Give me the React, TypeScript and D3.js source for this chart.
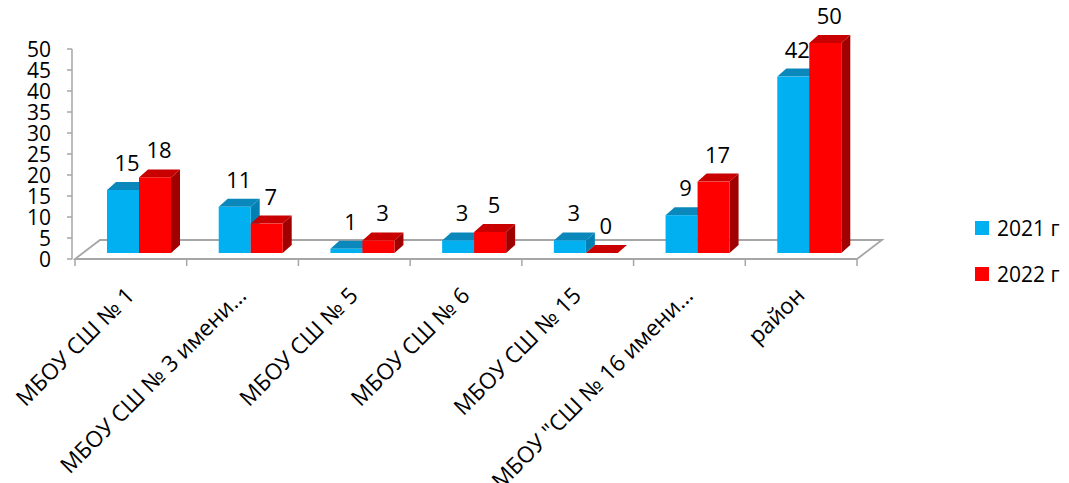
import React from "react";
import * as d3 from "d3";

const categories = [
  "МБОУ СШ № 1",
  "МБОУ СШ № 3 имени…",
  "МБОУ СШ № 5",
  "МБОУ СШ № 6",
  "МБОУ СШ № 15",
  "МБОУ \"СШ № 16 имени…",
  "район",
];
const values2021 = [15, 11, 1, 3, 3, 9, 42];
const values2022 = [18, 7, 3, 5, 0, 17, 50];
const seriesNames = ["2021 г", "2022 г"];
const yTicks = [0, 5, 10, 15, 20, 25, 30, 35, 40, 45, 50];

const FONT = "'Open Sans', 'Noto Sans', sans-serif";
const colors = [
  { front: "#00B0F0", top: "#0A88BC", side: "#0380B2" },
  { front: "#FF0000", top: "#C80000", side: "#A00000" },
];

export default function App() {
  const W = 1069, H = 483;
  const axisY = d3.scaleLinear().domain([0, 50]).range([259, 49]);
  const barY = d3.scaleLinear().domain([0, 50]).range([253, 43]);
  const xBand = d3.scaleBand<string>().domain(categories).range([75, 857]).padding(0);
  const bw = xBand.bandwidth();
  const barW = 32;
  const barOff = 32;
  const dx = 9, dy = -8;
  const floorDx = 25, floorDy = -19;
  const series = [values2021, values2022];

  const bars: JSX.Element[] = [];
  categories.forEach((c, i) => {
    series.forEach((vals, s) => {
      const v = vals[i];
      const x0 = (xBand(c) as number) + barOff + s * barW;
      const x1 = x0 + barW;
      const yb = barY(0);
      const yt = barY(v);
      const col = colors[s];
      bars.push(
        <g key={`b${i}-${s}`}>
          {v > 0 && (
            <polygon
              points={`${x1},${yb} ${x1 + dx},${yb + dy} ${x1 + dx},${yt + dy} ${x1},${yt}`}
              fill={col.side}
            />
          )}
          <polygon
            points={`${x0},${yt} ${x1},${yt} ${x1 + dx},${yt + dy} ${x0 + dx},${yt + dy}`}
            fill={col.top}
          />
          {v > 0 && <rect x={x0} y={yt} width={barW} height={yb - yt} fill={col.front} />}
        </g>
      );
    });
  });

  const labels: JSX.Element[] = [];
  categories.forEach((c, i) => {
    series.forEach((vals, s) => {
      const v = vals[i];
      const x0 = (xBand(c) as number) + barOff + s * barW;
      labels.push(
        <text
          key={`l${i}-${s}`}
          x={x0 + barW / 2 + 4}
          y={barY(v) - 19}
          textAnchor="middle"
          fontSize={22}
          fontFamily={FONT}
          fill="#000"
        >
          {v}
        </text>
      );
    });
  });

  const fx0 = 75, fx1 = 857, fy = 259;

  return (
    <svg width={W} height={H} style={{ position: "absolute", left: 0, top: 0, background: "#fff" }}>
      {/* floor */}
      <polygon
        points={`${fx0},${fy} ${fx1},${fy} ${fx1 + floorDx},${fy + floorDy} ${fx0 + floorDx},${fy + floorDy}`}
        fill="#fff"
        stroke="#A6A6A6"
        strokeWidth={1.8}
      />
      {/* category ticks */}
      {[...categories.map((c) => xBand(c) as number), fx1].map((x, i) => (
        <line key={`ct${i}`} x1={x} x2={x} y1={fy} y2={fy + 7} stroke="#A6A6A6" strokeWidth={1.5} />
      ))}
      {/* y axis */}
      <line x1={72} x2={72} y1={axisY(50)} y2={axisY(0)} stroke="#A6A6A6" strokeWidth={1.5} />
      {yTicks.map((t) => (
        <g key={`yt${t}`}>
          <line x1={67} x2={72} y1={axisY(t)} y2={axisY(t)} stroke="#A6A6A6" strokeWidth={1.5} />
          <text
            x={51}
            y={axisY(t)}
            dy="0.36em"
            textAnchor="end"
            fontSize={21}
            fontFamily={FONT}
            fill="#000"
          >
            {t}
          </text>
        </g>
      ))}
      {bars}
      {labels}
      {/* category labels */}
      {categories.map((c) => {
        const cx = (xBand(c) as number) + bw / 2;
        return (
          <text
            key={`cl${c}`}
            transform={`translate(${cx + 5},${297}) rotate(-45)`}
            textAnchor="end"
            fontSize={22.5}
            fontFamily={FONT}
            fill="#000"
          >
            {c}
          </text>
        );
      })}
      {/* legend */}
      {seriesNames.map((n, s) => (
        <g key={`lg${s}`}>
          <rect x={975} y={221 + s * 46} width={14} height={14} fill={colors[s].front} />
          <text x={997} y={236 + s * 46} fontSize={21} fontFamily={FONT} fill="#000">
            {n}
          </text>
        </g>
      ))}
    </svg>
  );
}
